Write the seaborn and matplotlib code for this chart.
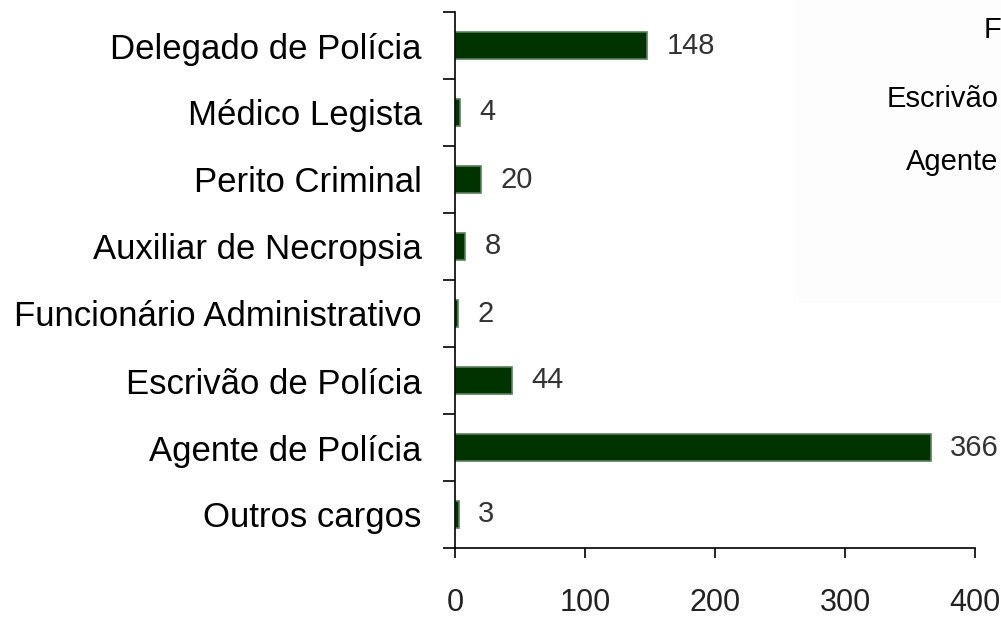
import pandas as pd
import numpy as np
import matplotlib.pyplot as plt
import seaborn as sns
from matplotlib.patches import Rectangle

# dados do gráfico
cargos = ['Delegado de Polícia', 'Médico Legista', 'Perito Criminal',
          'Auxiliar de Necropsia', 'Funcionário Administrativo',
          'Escrivão de Polícia', 'Agente de Polícia', 'Outros cargos']
quantidade = [148, 4, 20, 8, 2, 44, 366, 3]
xticks = [0, 100, 200, 300, 400]

# textos da caixa cortada no canto superior direito
caixa_textos = ['F', 'Escrivão', 'Agente']

df = pd.DataFrame({'cargo': cargos, 'qtd': quantidade})

sns.set_style('white')
plt.rcParams['font.family'] = ['Liberation Sans', 'DejaVu Sans']

fig = plt.figure(figsize=(10.01, 6.20), dpi=100)

# caixa quase branca (resto de outro gráfico)
fig.patches.append(Rectangle((793 / 1001, 1 - 303 / 620), 1, 1,
                             transform=fig.transFigure, facecolor='#fdfdfd',
                             edgecolor='none', zorder=0))
pos = [(984, 38), (887, 107), (906, 170)]
for t, (px, py) in zip(caixa_textos, pos):
    fig.text(px / 1001, 1 - py / 620, t, fontsize=21, color='black',
             ha='left', va='baseline')

ax = fig.add_axes([455 / 1001, 1 - 548 / 620, 520 / 1001, 536 / 620])
ax.patch.set_alpha(0)
sns.barplot(data=df, x='qtd', y='cargo', orient='h', width=0.4,
            color='#003300', edgecolor='#5a7f5a', linewidth=1.2,
            saturation=1, ax=ax)

ax.bar_label(ax.containers[0], labels=[str(v) for v in quantidade],
             padding=14, fontsize=21, color='#333333')

ax.set_xlim(0, 400)
ax.set_ylim(7.5, -0.5)
ax.set_xticks(xticks)
ax.set_xticklabels([str(v) for v in xticks], fontsize=22, color='#222222')
ax.set_yticks(range(len(cargos)))
ax.set_yticklabels(cargos, fontsize=25, color='black')
ax.set_yticks(np.arange(-0.5, len(cargos)), minor=True)
ax.tick_params(axis='y', which='major', left=True, length=0, pad=24)
ax.tick_params(axis='y', which='minor', left=True, length=9, width=1.2,
               color='black')
ax.tick_params(axis='x', which='major', bottom=True, length=7, width=1.2,
               color='black', pad=22, direction='out')
ax.set_xlabel('')
ax.set_ylabel('')

for s in ['top', 'right']:
    ax.spines[s].set_visible(False)
for s in ['left', 'bottom']:
    ax.spines[s].set_color('black')
    ax.spines[s].set_linewidth(1.2)

fig.savefig('out.png', dpi=100)
